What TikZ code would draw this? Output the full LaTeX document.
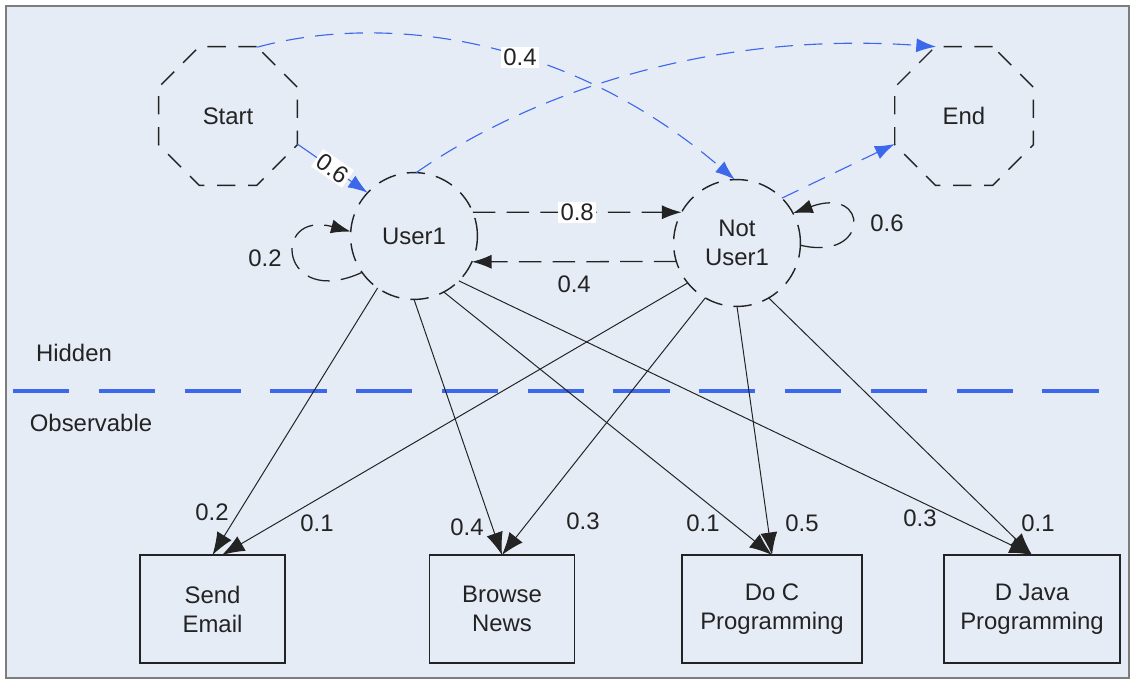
\documentclass[tikz,border=0pt]{standalone}
\usepackage{fontspec}
\setmainfont{Liberation Sans}
\usetikzlibrary{positioning}
\usetikzlibrary{shapes, arrows.meta}
\definecolor{bgblue}{RGB}{230,236,246}
\definecolor{hmmblue}{RGB}{62,104,236}
\definecolor{framegray}{RGB}{125,125,125}
\definecolor{inkgray}{RGB}{35,35,35}
\tikzset{
	every node/.style={font=\fontsize{17}{20.6}\selectfont, text=inkgray, align=center, inner sep=0pt, outer sep=0pt},
	octstate/.style={regular polygon, regular polygon sides=8, draw=inkgray, line width=1pt, dash pattern=on 13pt off 9pt, minimum size=3.75cm},
	hidstate/.style={circle, draw=inkgray, line width=1pt, dash pattern=on 13pt off 8pt, minimum size=3.17cm},
	obsbox/.style={rectangle, draw=inkgray, line width=0.9pt, minimum height=2.7cm},
	trans/.style={-{Latex[length=14pt,width=10pt]}, draw=inkgray, line width=0.9pt, dash pattern=on 16pt off 8pt},
	bluetrans/.style={-{Latex[length=14pt,width=10pt]}, draw=hmmblue, fill=none, line width=0.8pt, dash pattern=on 13pt off 8pt},
	emit/.style={-{Latex[length=16pt,width=12pt]}, draw=inkgray, line width=0.7pt},
	layerline/.style={draw=hmmblue, line width=2.2pt, dash pattern=on 40pt off 21pt},
	prob/.style={fill=white, inner sep=1.5pt}
}

\begin{document}
\begin{tikzpicture}[x=0.025cm, y=-0.025cm]
	\useasboundingbox (0,0) rectangle (1135,681);
	% Frame
	\draw[framegray, fill=bgblue, line width=1.2pt] (6,6) rectangle (1129,678);

	% Hidden states
	\node (start) [octstate] at (228,116) {Start};
	\node (end) [octstate] at (964,116) {End};
	\node (user1) [hidstate] at (414,236) {User1};
	\node (notuser) [hidstate] at (737,243) {Not\\User1};

	% Observations
	\node (email) [obsbox, minimum width=3.625cm] at (212.5,609) {Send\\Email};
	\node (browse) [obsbox, minimum width=3.625cm] at (502,609) {Browse\\News};
	\node (doc) [obsbox, minimum width=4.5cm] at (772,609) {Do C\\Programming};
	\node (djava) [obsbox, minimum width=4.4cm] at (1032,609) {D Java\\Programming};

	% Hidden / observable border
	\coordinate (sepL) at (13,391);
	\coordinate (sepR) at (1124,391);
	\draw[layerline] (sepL) -- (sepR);
	\node (hidden) at (74,353) {Hidden};
	\node (observable) at (91,423) {Observable};

	% Transitions
	\draw[-{Latex[length=14pt,width=10pt]}, hmmblue, line width=0.8pt] (start.-22.5) -- node[prob, sloped, pos=0.5] {0.6} (user1.137);
	\draw[bluetrans] (start.67.5) .. controls (375,15) and (560,30) .. node[prob, pos=0.59] {0.4} (notuser.92);
	\draw[bluetrans] (user1.88) .. controls (520,100) and (700,30) .. (end.112.5);
	\draw[bluetrans] (notuser.45) -- (end.202.5);
	\draw[trans] (user1.22) -- node[prob] {0.8} (notuser.151);
	\draw[trans] (notuser.197) -- node[below=10pt] (back) {0.4} (user1.-24);
	\draw[trans] (user1.215) .. controls (280,310) and (270,210) .. (user1.176);
	\draw[trans] (notuser.-2) .. controls (870,262) and (870,185) .. (notuser.28);
	\node (loopa) at (265,258) {0.2};
	\node (loopb) at (887,223) {0.6};

	% Emissions
	\draw[emit] (user1.235) -- (email.north);
	\draw[emit] (user1.south) -- (browse.north);
	\draw[emit] (user1.-62) -- (doc.north);
	\draw[emit] (user1.-45) -- (djava.north);
	\draw[emit] (notuser.219) -- (email.80);
	\draw[emit] (notuser.240) -- (browse.north);
	\draw[emit] (notuser.south) -- (doc.north);
	\draw[emit] (notuser.-60) -- (djava.north);
	\node (pa) at (212,512) {0.2};
	\node (pb) at (317,523) {0.1};
	\node (pc) at (467,527) {0.4};
	\node (pd) at (583,521) {0.3};
	\node (pe) at (703,523) {0.1};
	\node (pf) at (802,523) {0.5};
	\node (pg) at (920,518) {0.3};
	\node (ph) at (1038,523) {0.1};
\end{tikzpicture}
\end{document}
